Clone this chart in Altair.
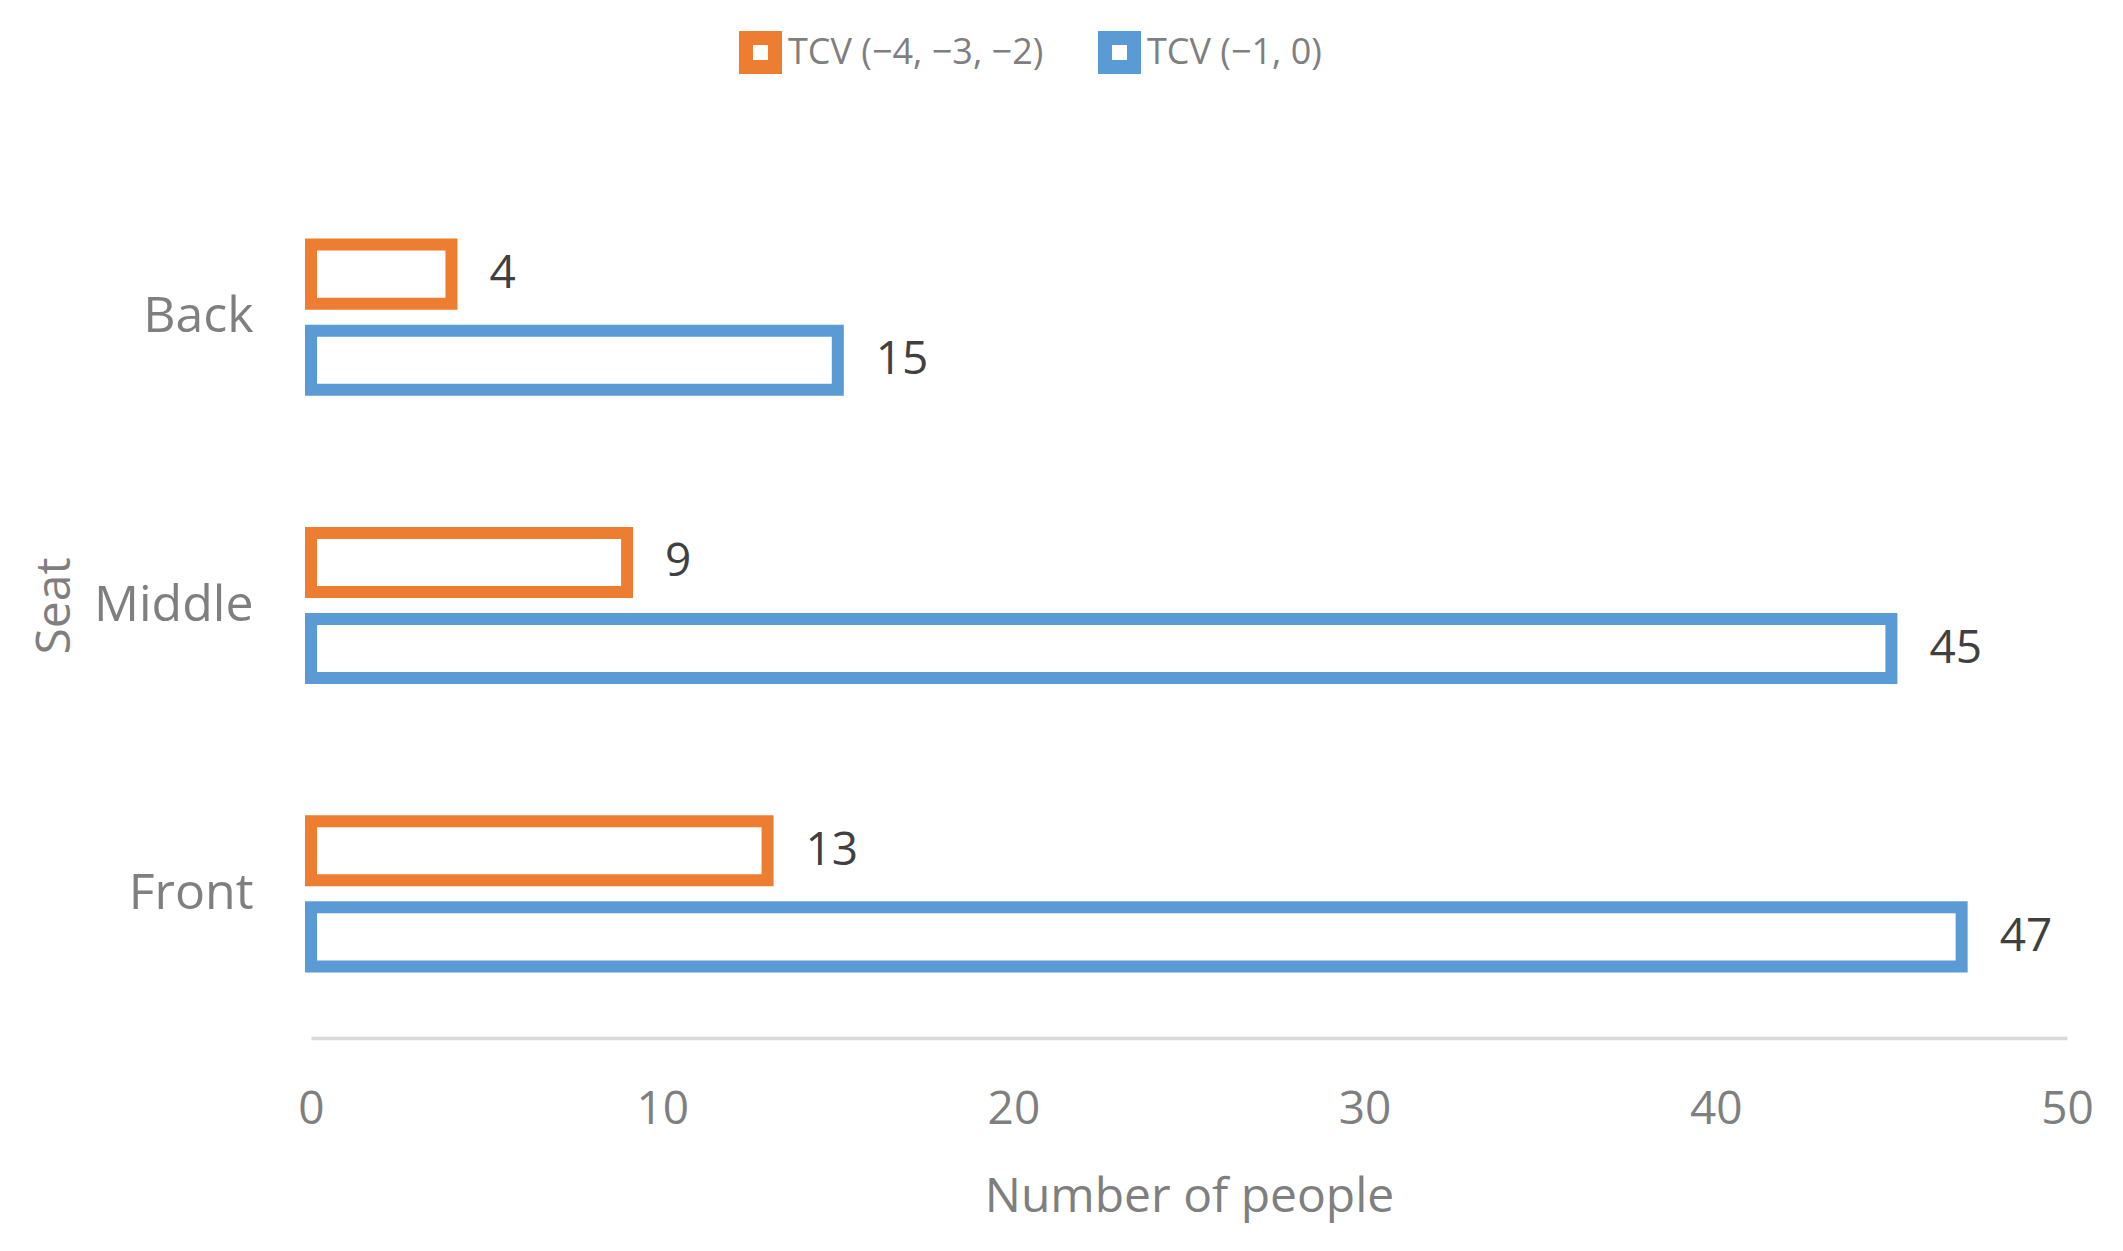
import altair as alt
import pandas as pd

seats = ["Back", "Middle", "Front"]
series = ["TCV (\u22124, \u22123, \u22122)", "TCV (\u22121, 0)"]
values_neg = [4, 9, 13]
values_neu = [15, 45, 47]
colors = ["#ED7D31", "#5B9BD5"]

rows = []
for s, a, b in zip(seats, values_neg, values_neu):
    rows.append({"Seat": s, "Series": series[0], "Count": a})
    rows.append({"Seat": s, "Series": series[1], "Count": b})
df = pd.DataFrame(rows)

FONT = "Open Sans"

y_enc = alt.Y("Seat:N", sort=seats,
              scale=alt.Scale(paddingInner=0, paddingOuter=0),
              axis=alt.Axis(title="Seat", domain=False, ticks=False, grid=False,
                            labelFont=FONT, labelFontSize=50, labelColor="#7f7f7f",
                            labelPadding=58, titleFont=FONT, titleFontSize=48,
                            titleColor="#7f7f7f", titleFontWeight="normal",
                            titlePadding=32))
yoff = alt.YOffset("Series:N", sort=series,
                   scale=alt.Scale(paddingInner=0.314, paddingOuter=0.831))
x_enc = alt.X("Count:Q", scale=alt.Scale(domain=[0, 50]),
              axis=alt.Axis(title="Number of people", values=[0, 10, 20, 30, 40, 50],
                            grid=False, ticks=False, domainColor="#D9D9D9",
                            domainWidth=3.5, labelFont=FONT, labelFontSize=46,
                            labelColor="#7f7f7f", labelPadding=49, labelFlush=False,
                            titleFont=FONT, titleFontSize=48, titleColor="#7f7f7f",
                            titleFontWeight="normal", titlePadding=41))

bars = alt.Chart(df).mark_bar(fill="white", strokeWidth=12).encode(
    x=x_enc, y=y_enc, yOffset=yoff,
    stroke=alt.Stroke("Series:N", sort=series,
                      scale=alt.Scale(domain=series, range=colors),
                      legend=alt.Legend(title=None, orient="none", direction="horizontal",
                                        legendX=428, legendY=-142, padding=0,
                                        symbolType="square", symbolSize=841,
                                        symbolStrokeWidth=14, symbolFillColor="white",
                                        labelFont=FONT, labelFontSize=36, labelLimit=0,
                                        labelColor="#7f7f7f", columnPadding=33,
                                        labelOffset=6))
)

labels = alt.Chart(df).mark_text(align="left", baseline="middle", dx=38,
                                 font=FONT, fontSize=46, color="#404040").encode(
    x="Count:Q", y=alt.Y("Seat:N", sort=seats), yOffset=yoff, text="Count:Q"
)

chart = alt.layer(bars, labels).properties(
    width=1756, height=865,
    autosize=alt.AutoSizeParams(type="none"),
    padding={"left": 303, "top": 165, "right": 30, "bottom": 190},
    background="white"
).configure_view(stroke=None)

chart.save("out.html", embed_options={"renderer": "svg", "actions": False})
